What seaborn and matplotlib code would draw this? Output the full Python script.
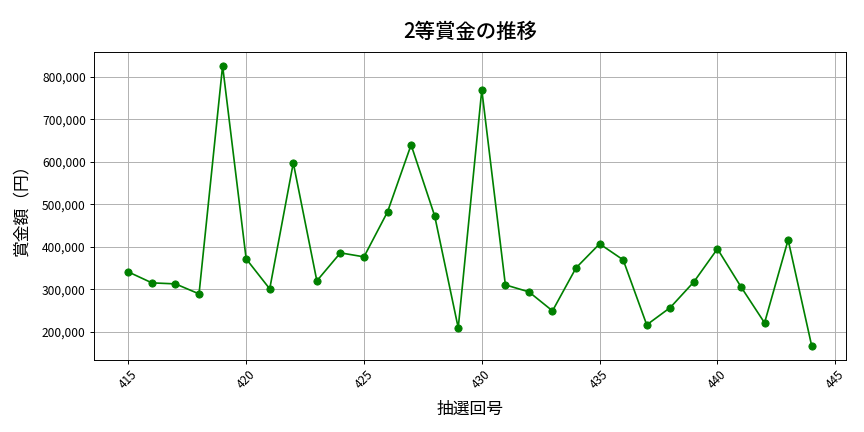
import pandas as pd
import matplotlib
matplotlib.use("Agg")
import matplotlib.pyplot as plt
import matplotlib.ticker as mticker
import seaborn as sns

# 抽選回号と2等賞金
kaigou = list(range(415, 445))
shoukin = [
    341000, 315300, 312900, 289400, 825900, 371800, 301200, 597600, 320000, 385900,
    376500, 482400, 640000, 472900, 209400, 769400, 310600, 294100, 249400, 350600,
    407100, 369400, 216500, 257300, 317600, 395300, 305900, 221200, 416500, 167100,
]

df = pd.DataFrame({"kaigou": kaigou, "shoukin": shoukin})

plt.rcParams["font.family"] = ["Noto Sans CJK JP", "DejaVu Sans"]

fig, ax = plt.subplots(figsize=(10, 5), dpi=86.4)

sns.lineplot(
    data=df,
    x="kaigou",
    y="shoukin",
    marker="o",
    color="green",
    markeredgecolor="green",
    markersize=6,
    linewidth=1.4,
    ax=ax
)

ax.set_title("2等賞金の推移", fontsize=17, fontweight="medium", pad=12)
ax.set_xlabel("抽選回号", fontsize=14, labelpad=8)
ax.set_ylabel("賞金額（円）", fontsize=14, labelpad=10)
ax.yaxis.set_major_formatter(mticker.StrMethodFormatter("{x:,.0f}"))
ax.xaxis.set_major_locator(mticker.MultipleLocator(5))
plt.xticks(rotation=45)
ax.grid(True, color="#b0b0b0", linewidth=0.8)

plt.subplots_adjust(left=0.109, right=0.979, top=0.88, bottom=0.167)
plt.savefig("out.png", dpi=86.4)
